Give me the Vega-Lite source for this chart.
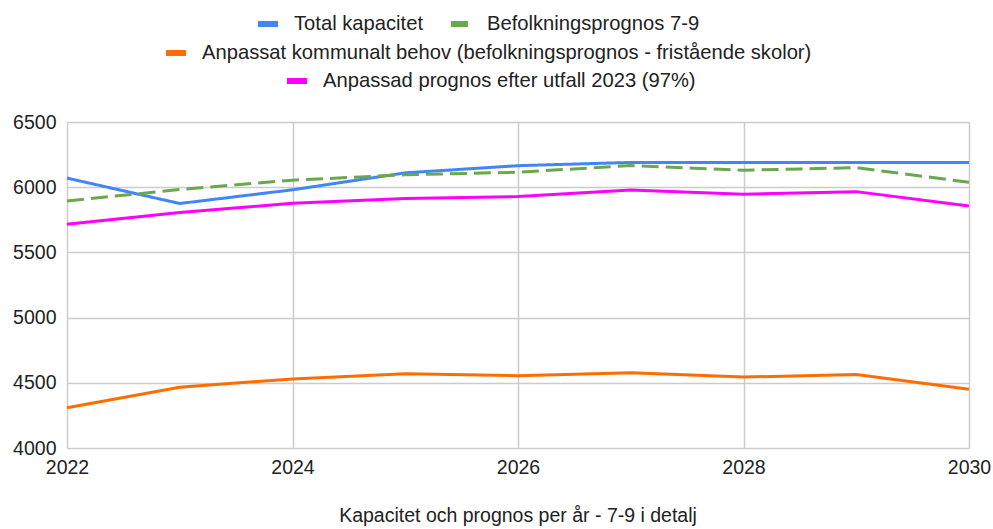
{
  "$schema": "https://vega.github.io/schema/vega-lite/v6.json",
  "width": 902,
  "height": 326,
  "padding": {"left": 12, "right": 3, "top": 11, "bottom": 2},
  "background": "white",
  "view": {"stroke": null},
  "title": {
    "text": "Kapacitet och prognos per år - 7-9 i detalj",
    "orient": "bottom",
    "anchor": "middle",
    "frame": "group",
    "offset": 30,
    "font": "Liberation Sans",
    "fontSize": 19.5,
    "fontWeight": "normal",
    "color": "#222222"
  },
  "config": {
    "font": "Liberation Sans",
    "axis": {
      "labelFont": "Liberation Sans",
      "labelFontSize": 19.5,
      "labelColor": "#222222",
      "domain": false,
      "ticks": false,
      "gridColor": "#cccccc",
      "gridWidth": 1.5,
      "title": null
    },
    "legend": {
      "labelFont": "Liberation Sans",
      "labelFontSize": 20.2,
      "labelColor": "#222222",
      "labelLimit": 1000,
      "symbolType": "stroke",
      "symbolStrokeWidth": 6,
      "symbolSize": 400,
      "labelOffset": 13,
      "columnPadding": 15
    }
  },
  "data": {
    "values": [
      {"year": 2022, "series": "Total kapacitet", "value": 6070},
      {"year": 2023, "series": "Total kapacitet", "value": 5875},
      {"year": 2024, "series": "Total kapacitet", "value": 5980},
      {"year": 2025, "series": "Total kapacitet", "value": 6110},
      {"year": 2026, "series": "Total kapacitet", "value": 6165},
      {"year": 2027, "series": "Total kapacitet", "value": 6190},
      {"year": 2028, "series": "Total kapacitet", "value": 6190},
      {"year": 2029, "series": "Total kapacitet", "value": 6190},
      {"year": 2030, "series": "Total kapacitet", "value": 6190},
      {"year": 2022, "series": "Befolkningsprognos 7-9", "value": 5895},
      {"year": 2023, "series": "Befolkningsprognos 7-9", "value": 5982},
      {"year": 2024, "series": "Befolkningsprognos 7-9", "value": 6054},
      {"year": 2025, "series": "Befolkningsprognos 7-9", "value": 6095},
      {"year": 2026, "series": "Befolkningsprognos 7-9", "value": 6115},
      {"year": 2027, "series": "Befolkningsprognos 7-9", "value": 6166},
      {"year": 2028, "series": "Befolkningsprognos 7-9", "value": 6130},
      {"year": 2029, "series": "Befolkningsprognos 7-9", "value": 6150},
      {"year": 2030, "series": "Befolkningsprognos 7-9", "value": 6038},
      {"year": 2022, "series": "Anpassat kommunalt behov (befolkningsprognos - fristående skolor)", "value": 4308},
      {"year": 2023, "series": "Anpassat kommunalt behov (befolkningsprognos - fristående skolor)", "value": 4466},
      {"year": 2024, "series": "Anpassat kommunalt behov (befolkningsprognos - fristående skolor)", "value": 4530},
      {"year": 2025, "series": "Anpassat kommunalt behov (befolkningsprognos - fristående skolor)", "value": 4569},
      {"year": 2026, "series": "Anpassat kommunalt behov (befolkningsprognos - fristående skolor)", "value": 4554},
      {"year": 2027, "series": "Anpassat kommunalt behov (befolkningsprognos - fristående skolor)", "value": 4577},
      {"year": 2028, "series": "Anpassat kommunalt behov (befolkningsprognos - fristående skolor)", "value": 4544},
      {"year": 2029, "series": "Anpassat kommunalt behov (befolkningsprognos - fristående skolor)", "value": 4564},
      {"year": 2030, "series": "Anpassat kommunalt behov (befolkningsprognos - fristående skolor)", "value": 4450},
      {"year": 2022, "series": "Anpassad prognos efter utfall 2023 (97%)", "value": 5716},
      {"year": 2023, "series": "Anpassad prognos efter utfall 2023 (97%)", "value": 5806},
      {"year": 2024, "series": "Anpassad prognos efter utfall 2023 (97%)", "value": 5876},
      {"year": 2025, "series": "Anpassad prognos efter utfall 2023 (97%)", "value": 5913},
      {"year": 2026, "series": "Anpassad prognos efter utfall 2023 (97%)", "value": 5928},
      {"year": 2027, "series": "Anpassad prognos efter utfall 2023 (97%)", "value": 5978},
      {"year": 2028, "series": "Anpassad prognos efter utfall 2023 (97%)", "value": 5946},
      {"year": 2029, "series": "Anpassad prognos efter utfall 2023 (97%)", "value": 5966},
      {"year": 2030, "series": "Anpassad prognos efter utfall 2023 (97%)", "value": 5855}
    ]
  },
  "encoding": {
    "x": {
      "field": "year",
      "type": "quantitative",
      "scale": {"domain": [2022, 2030], "nice": false, "zero": false},
      "axis": {"values": [2022, 2024, 2026, 2028, 2030], "format": "d", "labelPadding": 10, "labelFlush": false, "labelOverlap": false}
    },
    "y": {
      "field": "value",
      "type": "quantitative",
      "scale": {"domain": [4000, 6500], "nice": false, "zero": false},
      "axis": {"values": [4000, 4500, 5000, 5500, 6000, 6500], "format": "d", "labelPadding": 11}
    }
  },
  "layer": [
    {
      "transform": [{"filter": {"field": "series", "oneOf": ["Total kapacitet", "Befolkningsprognos 7-9"]}}],
      "mark": {"type": "line", "strokeWidth": 3},
      "encoding": {
        "color": {
          "field": "series",
          "type": "nominal",
          "scale": {"domain": ["Total kapacitet", "Befolkningsprognos 7-9"], "range": ["#4285f4", "#6aa84f"]},
          "legend": {"title": null, "orient": "none", "direction": "horizontal", "legendX": 188, "legendY": -111}
        },
        "strokeDash": {
          "field": "series",
          "type": "nominal",
          "scale": {"domain": ["Total kapacitet", "Befolkningsprognos 7-9"], "range": [[1, 0], [17, 7]]},
          "legend": {"title": null, "orient": "none", "direction": "horizontal", "legendX": 188, "legendY": -111}
        }
      }
    },
    {
      "transform": [{"filter": {"field": "series", "equal": "Anpassat kommunalt behov (befolkningsprognos - fristående skolor)"}}],
      "mark": {"type": "line", "strokeWidth": 3},
      "encoding": {
        "color": {
          "field": "series",
          "type": "nominal",
          "scale": {"range": ["#ff6d01"]},
          "legend": {"title": null, "orient": "none", "legendX": 96, "legendY": -82}
        }
      }
    },
    {
      "transform": [{"filter": {"field": "series", "equal": "Anpassad prognos efter utfall 2023 (97%)"}}],
      "mark": {"type": "line", "strokeWidth": 3},
      "encoding": {
        "color": {
          "field": "series",
          "type": "nominal",
          "scale": {"range": ["#ff00ff"]},
          "legend": {"title": null, "orient": "none", "legendX": 217, "legendY": -54}
        }
      }
    }
  ],
  "resolve": {"scale": {"color": "independent", "strokeDash": "independent"}, "legend": {"color": "independent"}}
}
